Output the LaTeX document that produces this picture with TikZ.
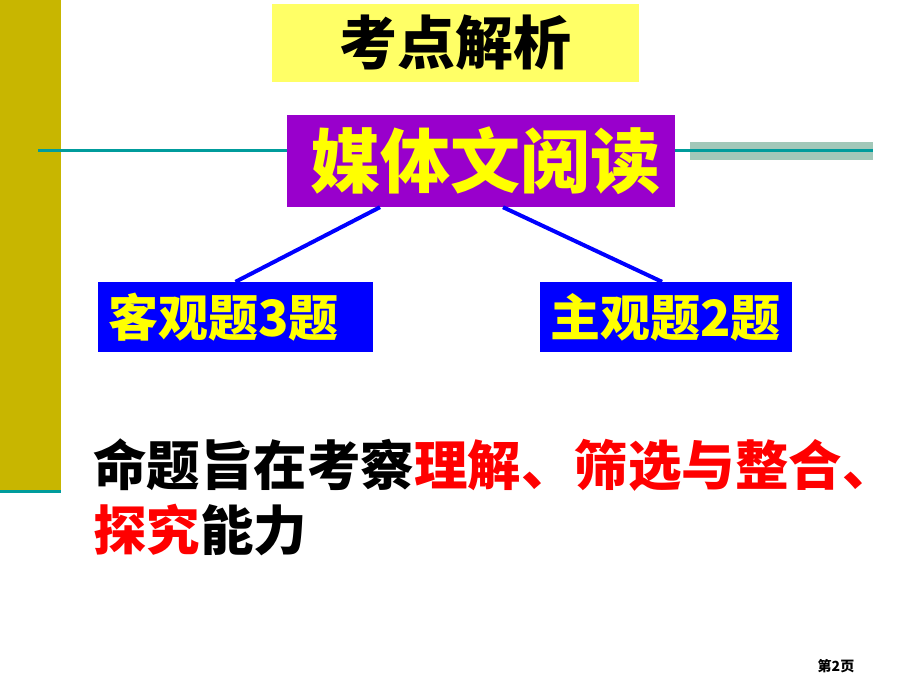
\documentclass[tikz,border=0pt]{standalone}
\usepackage{fontspec}
\newfontfamily\cjk{Noto Sans CJK SC}
\definecolor{Olive}{HTML}{C8B600}
\definecolor{TealLine}{HTML}{009C9C}
\definecolor{SageBar}{HTML}{A2C8B9}
\definecolor{TitleYellow}{HTML}{FFFF66}
\definecolor{MediaPurple}{HTML}{9900CC}
\definecolor{TagBlue}{HTML}{0000FF}
\definecolor{TextYellow}{HTML}{FFFF00}
\definecolor{KeyRed}{HTML}{FF0000}
\usetikzlibrary{positioning}
\tikzset{
  box/.style={
    rectangle, inner sep=0pt, text=TextYellow,
    font=\cjk\bfseries
  },
  tag/.style={box, fill=TagBlue, minimum height=70pt, align=left,
    font=\cjk\bfseries\fontsize{50}{52}\selectfont},
  link/.style={line width=4pt, color=TagBlue},
  rule/.style={line width=3pt, color=TealLine},
}

\begin{document}
\begin{tikzpicture}[x=1pt, y=-1pt]
\useasboundingbox (0,0) rectangle (920,690);

% side bar and rules
\fill[Olive] (0,0) rectangle (61,491);
\draw[rule] (0,491.5) -- (61,491.5);
\fill[SageBar] (690,142) rectangle (873,160);
\draw[rule] (38,150) -- (873,150);

% title
\node[box, fill=TitleYellow, text=black, minimum width=367pt, minimum height=78pt,
  font=\cjk\bfseries\fontsize{58}{60}\selectfont] (title) at (455.5,43) {考点解析};

% main topic
\node[box, fill=MediaPurple, minimum width=388pt, minimum height=92pt,
  font=\cjk\bfseries\fontsize{70}{72}\selectfont] (media) at (481,161) {\hspace{8pt}媒体文阅读};

% the two question types
\node[tag, minimum width=275pt] (objq) at (235.5,317) {\makebox[255pt][l]{客观题3题}};
\node[tag, minimum width=252pt] (subjq) at (666,317) {\makebox[232pt][l]{主观题2题}};

\draw[link] ([xshift=-101pt]media.south) -- (objq.north);
\draw[link] ([xshift=22pt]media.south) -- ([xshift=-4pt]subjq.north);

% aim of the questions
\node[anchor=west, inner sep=0pt, font=\cjk\bfseries\fontsize{53.5}{55}\selectfont] (aim1) at (93,465)
  {命题旨在考察\textcolor{KeyRed}{理解、筛选与整合、}};
\node[anchor=west, inner sep=0pt, font=\cjk\bfseries\fontsize{53.5}{55}\selectfont] (aim2) at (93,530)
  {\textcolor{KeyRed}{探究}能力};

% page number
\node[font=\cjk\bfseries\fontsize{14}{16}\selectfont] (page) at (836,666) {第2页};
\end{tikzpicture}
\end{document}
